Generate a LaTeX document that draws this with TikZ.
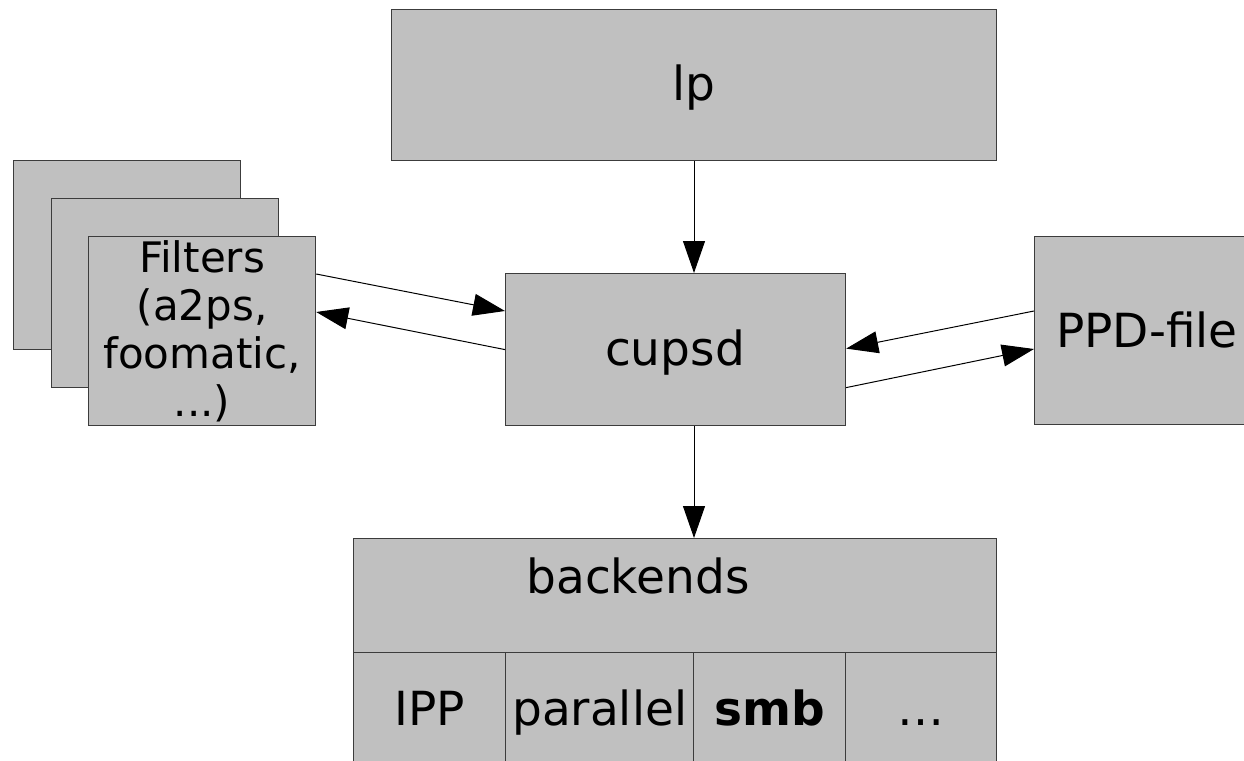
\documentclass[tikz,border=0pt]{standalone}
\usepackage{fontspec}
\setmainfont{DejaVu Sans}
\usetikzlibrary{arrows.meta,calc}
\definecolor{boxfill}{RGB}{192,192,192}
\definecolor{boxline}{RGB}{60,60,60}
\tikzset{
  box/.style={draw=boxline, fill=boxfill, line width=1.2pt, inner sep=0pt, anchor=north west},
  lbl/.style={inner sep=0pt, anchor=base, font=\fontsize{47}{56}\selectfont},
  flow/.style={draw=black, line width=1pt, -{Triangle[length=32pt,width=22pt]}},
}
\begin{document}
\begin{tikzpicture}[x=1pt,y=-1pt]
  \clip (0,0) rectangle (1244,760);
  \fill[white] (0,0) rectangle (1244,760);

  % lp
  \node[box, minimum width=605pt, minimum height=151pt] (lp) at (391,9) {};
  \node[lbl] (lptext) at (694,100) {lp};

  % stacked filter boxes
  \node[box, minimum width=227pt, minimum height=189pt] (f1) at (13,160) {};
  \node[box, minimum width=227pt, minimum height=189pt] (f2) at (51,198) {};
  \node[box, minimum width=227pt, minimum height=189pt] (f3) at (88,236) {};
  \node[inner sep=0pt, anchor=north, align=center,
        font=\fontsize{42}{48}\selectfont] (ftext) at ($(f3.north)+(0,4)$)
        {Filters\\(a2ps,\\foomatic,\\...)};

  % cupsd
  \node[box, minimum width=340pt, minimum height=152pt] (cupsd) at (505,273) {};
  \node[lbl] (cupsdtext) at (675,365) {cupsd};

  % PPD file
  \node[box, minimum width=226pt, minimum height=188pt] (ppd) at (1034,236) {};
  \node[lbl] (ppdtext) at (1147,347) {PPD-file};

  % backends table
  \node[box, minimum width=643pt, minimum height=114pt] (back) at (353,538) {};
  \node[box, minimum width=152pt, minimum height=150pt] (c1) at (353,652) {};
  \node[box, minimum width=188pt, minimum height=150pt] (c2) at (505,652) {};
  \node[box, minimum width=152pt, minimum height=150pt] (c3) at (693,652) {};
  \node[box, minimum width=151pt, minimum height=150pt] (c4) at (845,652) {};
  \node[lbl] (backtext) at (638,593) {backends};
  \node[lbl] (ipp) at (c1.north |- 0,725) {IPP};
  \node[lbl] (par) at (c2.north |- 0,725) {parallel};
  \node[lbl, font=\fontsize{47}{56}\selectfont\bfseries] (smb) at (c3.north |- 0,725) {smb};
  \node[lbl] (more) at (c4.north |- 0,725) {…};

  % connectors
  \draw[flow] (lp.south -| lptext) -- (lptext |- cupsd.north);
  \draw[flow] (lptext |- cupsd.south) -- (lptext |- back.north);
  \draw[flow] ([yshift=-38pt]f3.north east) -- ([yshift=-38pt]cupsd.north west);
  \draw[flow] (cupsd.west) -- ([yshift=-76pt]f3.north east);
  \draw[flow] ([yshift=-75pt]ppd.north west) -- ([yshift=1pt]cupsd.east);
  \draw[flow] ([yshift=-38pt]cupsd.east) -- ([yshift=-113pt]ppd.north west);
\end{tikzpicture}
\end{document}
